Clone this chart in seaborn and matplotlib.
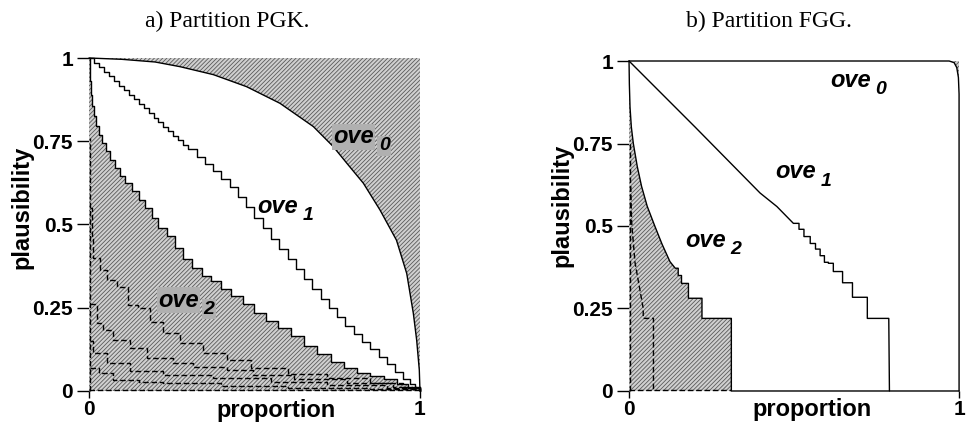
import numpy as np
import seaborn as sns
import matplotlib
matplotlib.use('Agg')
import matplotlib.pyplot as plt

sns.set_style('ticks')
plt.rcParams['font.family'] = ['Liberation Sans', 'DejaVu Sans']
plt.rcParams['hatch.linewidth'] = 0.6
for key in ['text.color', 'axes.labelcolor', 'xtick.color', 'ytick.color']:
    plt.rcParams[key] = 'black'

# ---- a) Partition PGK ----
# upper boundary (ove0)
pgk_up_x = [0, 0.1, 0.2, 0.275, 0.376, 0.476, 0.577, 0.678, 0.738, 0.779, 0.829, 0.879, 0.929, 0.96, 0.98, 0.99, 0.998, 1.0]
pgk_up_y = [1, 0.996, 0.988, 0.974, 0.95, 0.914, 0.864, 0.794, 0.734, 0.684, 0.624, 0.544, 0.453, 0.353, 0.233, 0.153, 0.063, 0.0]
# middle staircase (ove1)
pgk_mid_x = [0, 0.015, 0.03, 0.045, 0.06, 0.075, 0.09, 0.105, 0.12, 0.135, 0.15, 0.165, 0.18, 0.195, 0.21, 0.225,
             0.24, 0.255, 0.27, 0.285, 0.30, 0.325, 0.35, 0.375, 0.40, 0.425, 0.45, 0.475, 0.50, 0.525, 0.55, 0.575,
             0.60, 0.625, 0.65, 0.675, 0.70, 0.725, 0.75, 0.775, 0.80, 0.825, 0.85, 0.875, 0.90, 0.925, 0.95, 0.97,
             0.985, 1.0]
pgk_mid_y = [1.0, 0.985, 0.972, 0.958, 0.945, 0.931, 0.917, 0.903, 0.89, 0.876, 0.862, 0.849, 0.835, 0.82, 0.807, 0.794,
             0.78, 0.766, 0.753, 0.74, 0.727, 0.704, 0.682, 0.66, 0.638, 0.612, 0.582, 0.552, 0.52, 0.489, 0.457, 0.426,
             0.395, 0.365, 0.335, 0.305, 0.275, 0.25, 0.222, 0.195, 0.17, 0.148, 0.125, 0.103, 0.082, 0.058, 0.035, 0.02,
             0.008, 0.0]
# lower staircase (ove2)
pgk_low_x = [0, 0.003, 0.006, 0.01, 0.015, 0.022, 0.03, 0.04, 0.05, 0.065, 0.08, 0.095, 0.11, 0.13, 0.15, 0.17, 0.19,
             0.21, 0.235, 0.26, 0.285, 0.31, 0.34, 0.37, 0.40, 0.43, 0.465, 0.50, 0.535, 0.57, 0.61, 0.65, 0.69, 0.73,
             0.77, 0.81, 0.85, 0.89, 0.93, 0.965, 1.0]
pgk_low_y = [1.0, 0.93, 0.89, 0.855, 0.825, 0.795, 0.77, 0.745, 0.72, 0.695, 0.67, 0.645, 0.625, 0.60, 0.575, 0.55, 0.52,
             0.49, 0.465, 0.43, 0.395, 0.37, 0.345, 0.33, 0.305, 0.285, 0.26, 0.235, 0.21, 0.19, 0.165, 0.135, 0.11, 0.088,
             0.07, 0.055, 0.045, 0.035, 0.022, 0.01, 0.0]
# dashed staircases
pgk_d1_x = [0.004, 0.008, 0.013, 0.033, 0.053, 0.084, 0.119, 0.149, 0.184, 0.225, 0.275, 0.345, 0.416, 0.49, 0.60, 0.72, 0.85, 0.95, 1.0]
pgk_d1_y = [0.55, 0.46, 0.40, 0.363, 0.333, 0.313, 0.258, 0.248, 0.208, 0.173, 0.143, 0.113, 0.093, 0.07, 0.05, 0.038, 0.025, 0.012, 0.0]
pgk_d2_x = [0.004, 0.023, 0.043, 0.073, 0.124, 0.174, 0.254, 0.315, 0.416, 0.496, 0.62, 0.78, 0.92, 1.0]
pgk_d2_y = [0.26, 0.203, 0.183, 0.153, 0.128, 0.098, 0.083, 0.073, 0.063, 0.048, 0.035, 0.025, 0.012, 0.0]
pgk_d3_x = [0.004, 0.013, 0.053, 0.124, 0.225, 0.376, 0.55, 0.72, 0.9, 1.0]
pgk_d3_y = [0.15, 0.113, 0.083, 0.06, 0.048, 0.04, 0.028, 0.018, 0.008, 0.0]
pgk_d4_x = [0.004, 0.03, 0.073, 0.15, 0.225, 0.4, 0.6, 0.85, 1.0]
pgk_d4_y = [0.07, 0.053, 0.033, 0.028, 0.023, 0.016, 0.01, 0.005, 0.0]
pgk_vert_x = [0.004, 0.004]
pgk_vert_y = [0.0, 0.76]
pgk_base_x = [0.0, 1.0]
pgk_base_y = [0.004, 0.004]

# ---- b) Partition FGG ----
fgg_up_x = [0, 0.97, 0.985, 0.993, 0.998, 1.0, 1.0]
fgg_up_y = [1, 1, 0.995, 0.98, 0.95, 0.9, 0.0]
fgg_mid_x = [0, 0.2, 0.397, 0.448, 0.498, 0.515, 0.515, 0.53, 0.53, 0.549, 0.549, 0.565, 0.565, 0.579, 0.579, 0.592,
             0.592, 0.604, 0.604, 0.619, 0.619, 0.647, 0.647, 0.677, 0.677, 0.722, 0.722, 0.787, 0.789]
fgg_mid_y = [1, 0.8, 0.6, 0.559, 0.508, 0.508, 0.49, 0.49, 0.468, 0.468, 0.447, 0.447, 0.43, 0.43, 0.41, 0.41,
             0.39, 0.39, 0.387, 0.387, 0.362, 0.362, 0.328, 0.328, 0.284, 0.284, 0.22, 0.22, 0.0]
fgg_low_x = [0, 0.001, 0.003, 0.007, 0.013, 0.025, 0.038, 0.055, 0.078, 0.1, 0.124, 0.14, 0.149, 0.149, 0.159, 0.159,
             0.18, 0.18, 0.221, 0.221, 0.31, 0.31, 1.0]
fgg_low_y = [1, 0.93, 0.86, 0.8, 0.75, 0.68, 0.62, 0.56, 0.5, 0.445, 0.392, 0.372, 0.372, 0.35, 0.35, 0.326,
             0.326, 0.281, 0.281, 0.22, 0.22, 0.0, 0.0]
fgg_d1_x = [0.005, 0.008, 0.018, 0.033, 0.043, 0.043, 0.074, 0.074]
fgg_d1_y = [0.62, 0.51, 0.39, 0.306, 0.25, 0.22, 0.22, 0.0]
fgg_vert_x = [0.004, 0.004]
fgg_vert_y = [0.0, 0.76]
fgg_base_x = [0.0, 0.31]
fgg_base_y = [0.003, 0.003]

yticks = [0, 0.25, 0.5, 0.75, 1]
ytick_labels = ['0', '0.25', '0.5', '0.75', '1']

HATCH = dict(facecolor='#d0d0d0', edgecolor='#5a5a5a', hatch='////////', linewidth=0)


def line(ax, x, y, dashed=False, steps=False):
    sns.lineplot(x=x, y=y, ax=ax, sort=False, estimator=None, color='black', lw=1.0,
                 linestyle=(0, (4, 2)) if dashed else '-',
                 drawstyle='steps-post' if steps else 'default', clip_on=False)


def ove(ax, x, y, sub, box=False):
    kw = dict(bbox=dict(facecolor='#b0b0b0', edgecolor='none', pad=1)) if box else {}
    t = ax.text(x, y, 'ove', fontsize=17, style='italic', weight='bold', color='black',
                ha='left', va='baseline', **kw)
    ax.annotate(sub, xy=(1, 0), xycoords=t, xytext=(3.5, -1.5), textcoords='offset points',
                fontsize=14, style='italic', weight='bold', color='black', ha='left', va='baseline', **kw)


def frame(ax, xlab_x, ylab_y):
    ax.set_xlim(0, 1)
    ax.set_ylim(0, 1)
    ax.set_xticks([0, 1], ['0', '1'])
    ax.set_yticks(yticks, ytick_labels)
    ax.tick_params(axis='y', length=9, width=1, pad=2.5, labelsize=15, colors='black')
    ax.tick_params(axis='x', length=5, width=1, pad=1.5, labelsize=15, colors='black')
    for lab in ax.get_xticklabels() + ax.get_yticklabels():
        lab.set_fontweight('bold')
    for s in ax.spines.values():
        s.set_visible(False)
    ax.set_xlabel('proportion', fontsize=17, fontweight='bold', color='black')
    ax.set_ylabel('plausibility', fontsize=17, fontweight='bold', color='black')
    ax.xaxis.set_label_coords(xlab_x, -0.077)
    ax.xaxis.label.set_va('baseline')
    ax.yaxis.set_label_coords(-0.169, ylab_y)


fig = plt.figure(figsize=(9.67, 4.29), dpi=100)
axA = fig.add_axes([0.0920, 0.0886, 0.3423, 0.7762])
axB = fig.add_axes([0.6505, 0.0886, 0.3413, 0.7692])

# panel a
axA.fill(np.append(pgk_up_x, 1), np.append(pgk_up_y, 1), **HATCH)
axA.fill_between(pgk_low_x, 0, pgk_low_y, step='post', **HATCH)
line(axA, pgk_up_x, pgk_up_y)
line(axA, pgk_mid_x, pgk_mid_y, steps=True)
line(axA, pgk_low_x, pgk_low_y, steps=True)
for dx, dy in [(pgk_d1_x, pgk_d1_y), (pgk_d2_x, pgk_d2_y), (pgk_d3_x, pgk_d3_y), (pgk_d4_x, pgk_d4_y)]:
    line(axA, dx, dy, dashed=True, steps=True)
line(axA, pgk_vert_x, pgk_vert_y, dashed=True)
line(axA, pgk_base_x, pgk_base_y, dashed=True)
ove(axA, 0.738, 0.744, '0', box=True)
ove(axA, 0.507, 0.534, '1')
ove(axA, 0.209, 0.253, '2', box=True)
frame(axA, 0.564, 0.55)

# panel b
axB.fill(np.append(fgg_up_x, 1), np.append(fgg_up_y, 1), **HATCH)
axB.fill(np.append(fgg_low_x, 0), np.append(fgg_low_y, 0), **HATCH)
line(axB, fgg_up_x, fgg_up_y)
line(axB, fgg_mid_x, fgg_mid_y)
line(axB, fgg_low_x, fgg_low_y)
line(axB, fgg_d1_x, fgg_d1_y, dashed=True)
line(axB, fgg_vert_x, fgg_vert_y, dashed=True)
line(axB, fgg_base_x, fgg_base_y, dashed=True)
ove(axB, 0.609, 0.922, '0')
ove(axB, 0.442, 0.644, '1')
ove(axB, 0.17, 0.437, '2')
frame(axB, 0.554, 0.564)

fig.text(0.2353, 0.938, 'a) Partition PGK.', ha='center', va='baseline', family='Liberation Serif',
         fontsize=17, color='black')
fig.text(0.7947, 0.938, 'b) Partition FGG.', ha='center', va='baseline', family='Liberation Serif',
         fontsize=17, color='black')

fig.savefig('out.png', dpi=100)
